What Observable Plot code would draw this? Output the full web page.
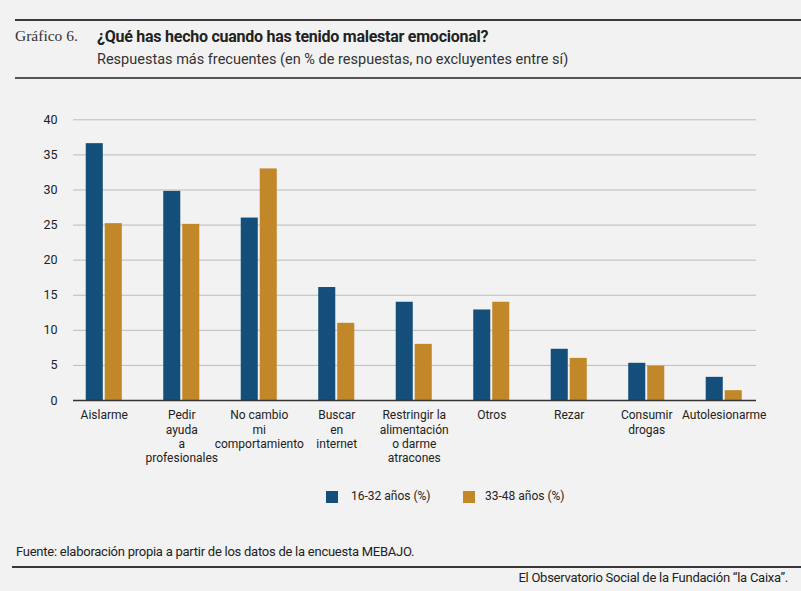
<!DOCTYPE html>
<html><head><meta charset="utf-8">
<script src="https://cdn.jsdelivr.net/npm/d3@7"></script>
<script src="https://cdn.jsdelivr.net/npm/@observablehq/plot@0.6"></script>
<style>
html,body{margin:0;padding:0;background:#f2f2f2;}
#wrap{position:relative;width:801px;height:591px;background:#f2f2f2;overflow:hidden;font-family:Roboto,"Liberation Sans",sans-serif;color:#222;}
.abs{position:absolute;white-space:nowrap;}
.rule{position:absolute;background:#3a3838;}
#chart{position:absolute;left:0;top:90px;}
.sw{position:absolute;width:12px;height:12px;}
</style></head>
<body><div id="wrap">
<div class="rule" style="left:15px;top:19px;width:786px;height:2px;"></div>
<div class="abs" style="left:15px;top:27px;font-family:'Liberation Serif',serif;font-size:15.5px;color:#333;">Gráfico 6.</div>
<div class="abs" style="left:97px;top:27px;font-size:16px;font-weight:bold;color:#222;letter-spacing:-0.25px;">¿Qué has hecho cuando has tenido malestar emocional?</div>
<div class="abs" style="left:97px;top:51px;font-size:14.5px;color:#333;">Respuestas más frecuentes (en % de respuestas, no excluyentes entre sí)</div>
<div class="rule" style="left:15px;top:77px;width:786px;height:2px;background:#555;"></div>
<div id="chart"></div>
<div id="legend"></div>
<div class="abs" style="left:16px;top:544px;font-size:13px;color:#222;letter-spacing:-0.25px;">Fuente: elaboración propia a partir de los datos de la encuesta MEBAJO.</div>
<div class="rule" style="left:12px;top:566px;width:789px;height:2px;"></div>
<div class="abs" style="right:13px;top:570px;font-size:13px;color:#222;letter-spacing:-0.25px;">El Observatorio Social de la Fundación “la Caixa”.</div>
</div>
<script>
const categories = ["Aislarme","Pedir\nayuda\na\nprofesionales","No cambio\nmi\ncomportamiento","Buscar\nen\ninternet","Restringir la\nalimentación\no darme\natracones","Otros","Rezar","Consumir\ndrogas","Autolesionarme"];
const series = ["16-32 años (%)","33-48 años (%)"];
const young = [36.6, 29.8, 26.0, 16.1, 14.0, 12.9, 7.3, 5.3, 3.3];
const older = [25.2, 25.1, 33.0, 11.0, 8.0, 14.0, 6.0, 4.9, 1.4];
const yTicks = [0,5,10,15,20,25,30,35,40];
const colors = ["#134f7a","#c18729"];

const rowsY = categories.map((c,i)=>({cat:c, value:young[i], s:series[0]}));
const rowsO = categories.map((c,i)=>({cat:c, value:older[i], s:series[1]}));

const chart = Plot.plot({
  width: 801, height: 380,
  marginLeft: 73, marginRight: 45, marginTop: 29.3, marginBottom: 70,
  style:{background:"transparent", fontFamily:"Roboto, 'Liberation Sans', sans-serif", fontSize:"12.5px", color:"#222"},
  x:{domain:categories, range:[65,762.5], paddingInner:0.535, paddingOuter:0.2677, round:false, label:null},
  y:{domain:[0,40], ticks:yTicks, label:null},
  marks:[
    Plot.ruleY(yTicks.filter(d=>d>0), {stroke:"#bcbcbc", strokeWidth:1}),
    Plot.barY(rowsY, {x:"cat", y:"value", fill:colors[0], insetRight:19}),
    Plot.barY(rowsO, {x:"cat", y:"value", fill:colors[1], insetLeft:19}),
    Plot.ruleY([0], {stroke:"#333", strokeWidth:1.5}),
    Plot.axisY({ticks:yTicks, tickSize:0, tickPadding:16, fontSize:12.5, label:null}),
    Plot.axisX({tickSize:0, tickPadding:9, fontSize:12, lineHeight:1.17, label:null})
  ]
});
document.getElementById("chart").appendChild(chart);

const leg = document.getElementById("legend");
const legPos = [[326,351],[463,485]];
series.forEach((s,i)=>{
  const sw=document.createElement("div"); sw.className="sw";
  sw.style.left=legPos[i][0]+"px"; sw.style.top="491px"; sw.style.background=colors[i];
  leg.appendChild(sw);
  const t=document.createElement("div"); t.className="abs";
  t.style.left=legPos[i][1]+"px"; t.style.top="489px"; t.style.fontSize="12px"; t.textContent=s;
  leg.appendChild(t);
});
</script>
</body></html>
